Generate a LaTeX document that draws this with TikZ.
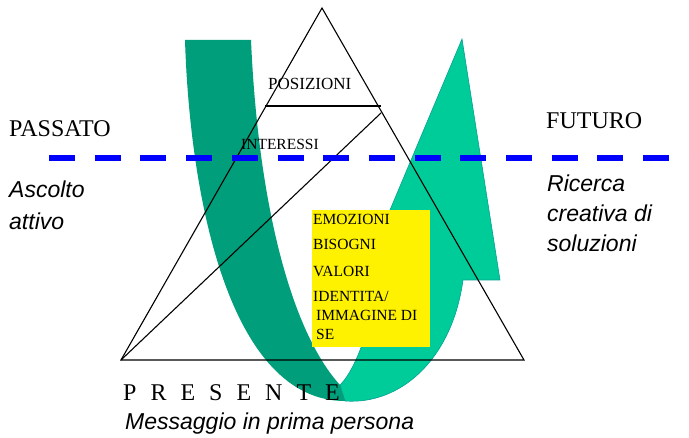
\documentclass[tikz,border=0pt]{standalone}
\usepackage{fontspec}
\setmainfont{Liberation Serif}
\setsansfont{Liberation Sans}
\usetikzlibrary{positioning}

\definecolor{bandDark}{RGB}{0,158,122}
\definecolor{bandLight}{RGB}{0,204,153}
\definecolor{bandEdge}{RGB}{0,160,150}

\begin{document}
\begin{tikzpicture}[
    x=1pt, y=-1pt,
    tri/.style={draw=black, line width=1.1pt, line join=miter},
    band/.style={fill=bandDark},
    bandup/.style={fill=bandLight, draw=bandEdge, line width=0.6pt},
    timeline/.style={draw=blue, line width=6pt, dash pattern=on 26pt off 19.7pt},
    when/.style={font=\fontsize{24}{28}\selectfont, anchor=base west, inner sep=0pt},
    note/.style={font=\sffamily\itshape\fontsize{23}{31}\selectfont, anchor=base west, inner sep=0pt, align=left},
    level/.style={font=\fontsize{15.5}{19}\selectfont, anchor=base west, inner sep=0pt, align=left},
    deep/.style={rectangle, fill=yellow, anchor=north west, inner sep=0pt, minimum width=118pt, minimum height=137pt}
]
\useasboundingbox (0,0) rectangle (689,438);

% the U-turn arrow
\path[bandup] (340,385) .. controls (365,360) and (382,280) .. (390,210)
    -- (462,39) -- (500,280) -- (463,280)
    .. controls (452,360) and (400,405) .. (345,401) -- cycle;
\path[band] (185,40) -- (251,40) .. controls (258,200) and (290,330) .. (340,385)
    -- (345,401) .. controls (230,401) and (190,200) .. (185,40) -- cycle;

% iceberg
\coordinate (apex) at (322,8);
\coordinate (baseL) at (121,360);
\coordinate (baseR) at (524,360);
\coordinate (posL) at (265,106);
\coordinate (posR) at (381,106);
\coordinate (cut) at (381,113);

\draw[tri] (apex) -- (baseR) -- (baseL) -- cycle;
\draw[tri] (posL) -- (posR);
\draw[tri] (cut) -- (baseL);

\node[deep] (box) at (312,210) {};

% past / future divide
\coordinate (lineL) at (49,158);
\coordinate (lineR) at (689,158);
\draw[timeline] (lineL) -- (lineR);

% base anchor of a multi-line node sits on its last line
\node[level, font=\fontsize{17}{19}\selectfont] (posizioni) at (268,90) {POSIZIONI};
\node[level] (interessi) at (241,150) {INTERESSI};

\node[level] (emozioni) at (313,225) {EMOZIONI};
\node[level] (bisogni) at (313,250) {BISOGNI};
\node[level] (valori) at (313,277) {VALORI};
\node[level] (identita) at (313,340) {IDENTITA/\\\hspace*{3pt}IMMAGINE DI\\\hspace*{3pt}SE};

\node[when] (passato) at (9,137) {PASSATO};
\node[when] (futuro) at (546,129) {FUTURO};
\node[when] (presente) at (123,401) {\spaceskip=14pt P R E S E N T E};

\node[note, font=\sffamily\itshape\fontsize{23}{32}\selectfont] (ascolto) at (9,230) {Ascolto\\attivo};
\node[note, font=\sffamily\itshape\fontsize{23}{30}\selectfont] (ricerca) at (547,252) {Ricerca\\creativa di\\soluzioni};
\node[note] (messaggio) at (125,430) {Messaggio in prima persona};
\end{tikzpicture}
\end{document}
